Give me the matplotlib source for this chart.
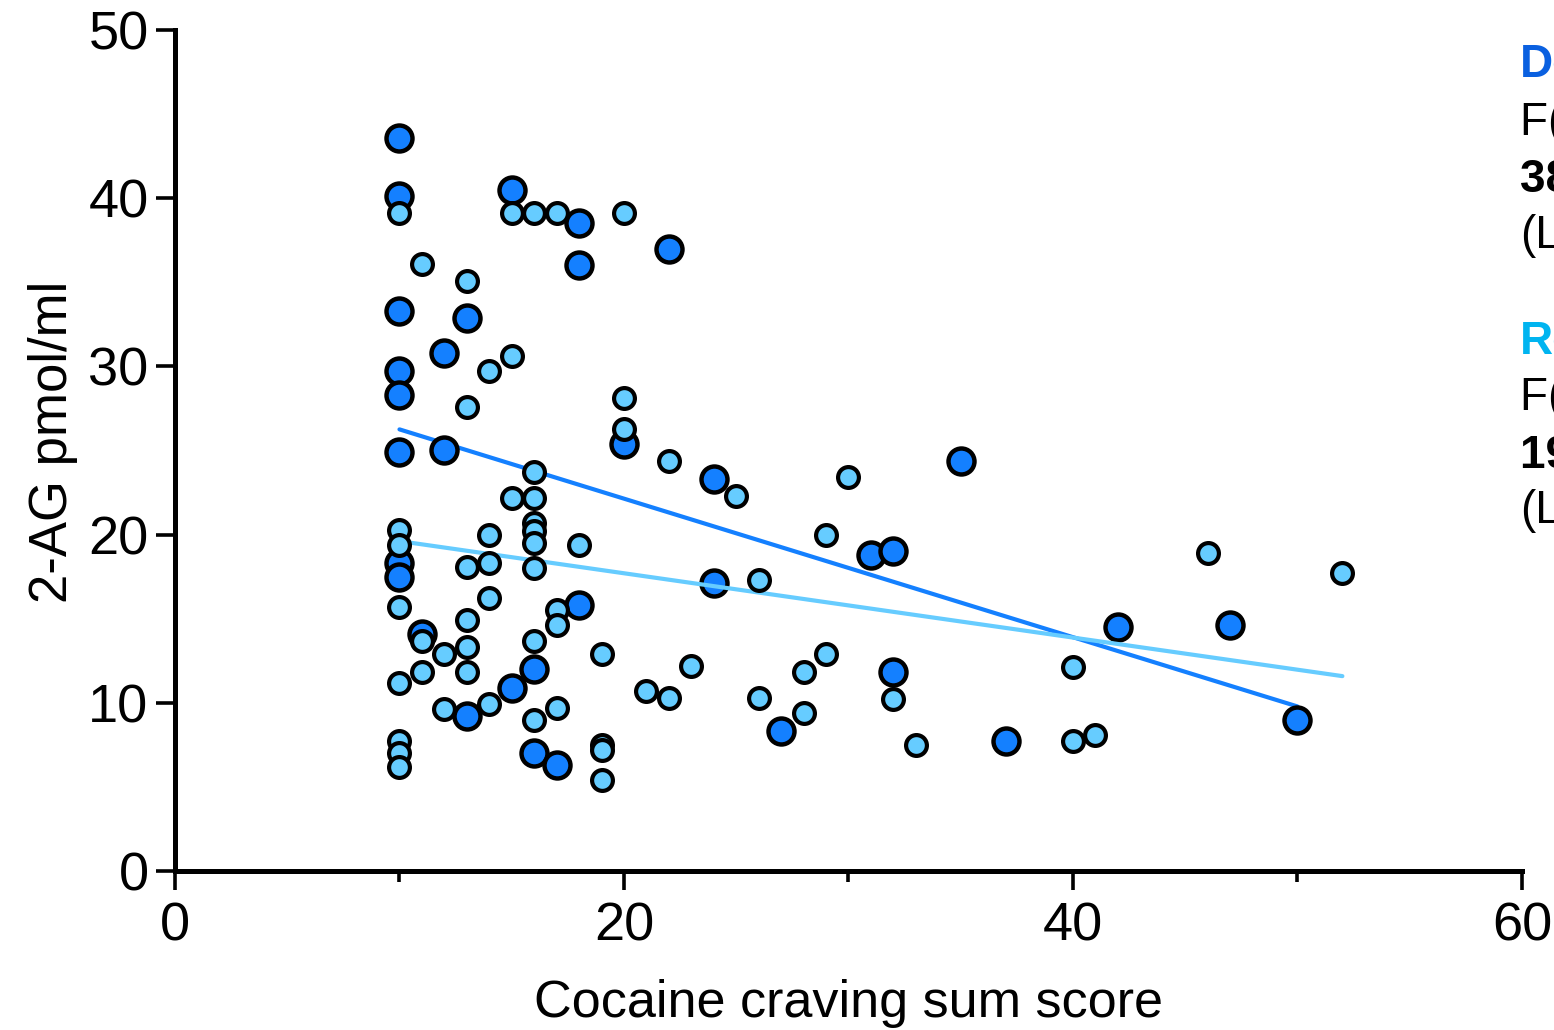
import numpy as np
import matplotlib.pyplot as plt

plt.rcParams['font.family'] = ['Liberation Sans', 'DejaVu Sans']

# dependent group (dark blue)
dep_x = [10, 10, 10, 10, 10, 10, 10, 10, 15, 18, 18, 22, 13, 12, 12, 20, 24, 35,
         31, 32, 24, 18, 16, 15, 13, 16, 17, 27, 32, 37, 42, 47, 50, 11]
dep_y = [43.6, 40.1, 33.3, 29.7, 28.3, 24.9, 18.3, 17.5, 40.5, 38.5, 36.0, 37.0,
         32.9, 30.8, 25.0, 25.4, 23.3, 24.4, 18.8, 19.0, 17.1, 15.8, 12.0, 10.9,
         9.2, 7.0, 6.3, 8.3, 11.8, 7.7, 14.5, 14.6, 9.0, 14.1]

# recreational group (light blue)
rec_x = [10, 15, 16, 17, 20, 11, 13, 15, 14, 13, 20, 20, 22, 16, 15, 16, 25, 30,
         16, 16, 16, 14, 10, 10, 18, 29, 13, 14, 16, 26, 46, 52, 10, 14, 17, 17,
         13, 11, 12, 13, 16, 19, 13, 11, 10, 23, 21, 22, 26, 28, 29, 32, 40, 12,
         14, 16, 17, 28, 10, 10, 10, 19, 19, 19, 33, 40, 41]
rec_y = [39.1, 39.1, 39.1, 39.1, 39.1, 36.1, 35.1, 30.6, 29.7, 27.6, 28.1, 26.3,
         24.4, 23.7, 22.2, 22.2, 22.3, 23.4, 20.7, 20.2, 19.5, 20.0, 20.3, 19.4,
         19.4, 20.0, 18.1, 18.3, 18.0, 17.3, 18.9, 17.7, 15.7, 16.2, 15.5, 14.6,
         14.9, 13.7, 12.9, 13.3, 13.7, 12.9, 11.8, 11.8, 11.2, 12.2, 10.7, 10.3,
         10.3, 11.8, 12.9, 10.2, 12.1, 9.6, 9.9, 9.0, 9.7, 9.4, 7.7, 7.0, 6.2,
         7.5, 7.2, 5.4, 7.5, 7.7, 8.1]

dark = '#1480FF'
light = '#66CCFF'

fig = plt.figure(figsize=(15.54, 10.30), dpi=100)
ax = fig.add_axes([0.1126, 0.1544, 0.8668, 0.8165])

# linear fits over each group's range
for xs, ys, col, z in [(dep_x, dep_y, dark, 1), (rec_x, rec_y, light, 3)]:
    m, b = np.polyfit(xs, ys, 1)
    xx = np.array([min(xs), max(xs)])
    ax.plot(xx, m * xx + b, color=col, lw=3, zorder=z, solid_capstyle='round')

ax.scatter(dep_x, dep_y, s=350, c=dark, edgecolors='black', linewidths=3.2, zorder=2)
ax.scatter(rec_x, rec_y, s=225, c=light, edgecolors='black', linewidths=3.0, zorder=4)

ax.set_xlim(0, 60)
ax.set_ylim(0, 50)
ax.set_xticks([0, 20, 40, 60])
ax.set_xticks([10, 30, 50], minor=True)
ax.set_yticks([0, 10, 20, 30, 40, 50])

for s in ['top', 'right']:
    ax.spines[s].set_visible(False)
for s in ['left', 'bottom']:
    ax.spines[s].set_linewidth(3.6)

ax.tick_params(axis='both', which='major', length=14, width=2.6, labelsize=39)
ax.tick_params(axis='x', which='minor', length=8, width=2.6)
ax.tick_params(axis='x', which='major', pad=8)
ax.tick_params(axis='y', which='major', pad=5)

ax.set_xlabel('Cocaine craving sum score', fontsize=37.5)
ax.set_ylabel('2-AG pmol/ml', fontsize=38)
ax.xaxis.set_label_coords(0.5, -0.128)
ax.yaxis.set_label_coords(-0.072, 0.51)

# group annotations at the right edge
tx = 0.978
fig.text(tx, 0.937, 'Dependent', color='#0A60E0', fontsize=33, fontweight='bold', va='center')
fig.text(tx, 0.881, 'F(1, 32) = 6.9', fontsize=33, va='center')
fig.text(tx, 0.825, '38% R²', fontsize=33, fontweight='bold', va='center')
fig.text(tx, 0.771, '(Linear)', fontsize=33, va='center')
fig.text(tx, 0.668, 'Recreational', color='#00B4F0', fontsize=33, fontweight='bold', va='center')
fig.text(tx, 0.614, 'F(1, 65) = 4.2', fontsize=33, va='center')
fig.text(tx, 0.557, '19% R²', fontsize=33, fontweight='bold', va='center')
fig.text(tx, 0.504, '(Linear)', fontsize=33, va='center')

fig.savefig('out.png', dpi=100)
